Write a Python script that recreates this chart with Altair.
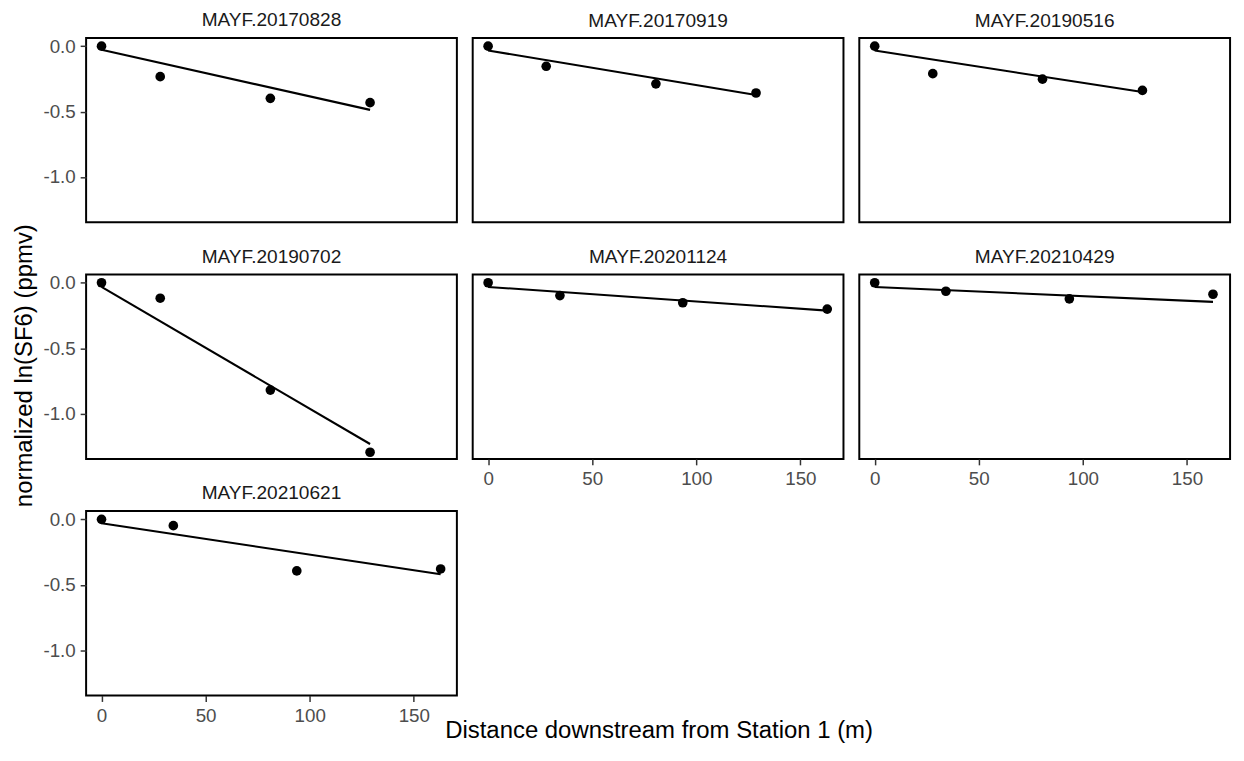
import altair as alt
import pandas as pd

sites = ["MAYF.20170828", "MAYF.20170919", "MAYF.20190516", "MAYF.20190702",
         "MAYF.20201124", "MAYF.20210429", "MAYF.20210621"]

dist = [
    [0, 28.2, 81.1, 129.0],
    [0, 27.9, 80.6, 128.7],
    [0, 27.9, 80.6, 128.6],
    [0, 28.2, 81.1, 129.0],
    [0, 34.5, 93.5, 162.9],
    [0, 34.2, 93.5, 162.5],
    [0, 34.5, 93.8, 162.9],
]
vals = [
    [0, -0.233, -0.399, -0.432],
    [0, -0.154, -0.288, -0.358],
    [0, -0.210, -0.252, -0.338],
    [0, -0.118, -0.820, -1.295],
    [0, -0.098, -0.153, -0.201],
    [0, -0.065, -0.123, -0.088],
    [0, -0.048, -0.394, -0.379],
]
fit_start = [-0.028, -0.033, -0.033, -0.032, -0.032, -0.032, -0.030]
fit_end = [-0.487, -0.374, -0.351, -1.232, -0.213, -0.146, -0.420]

x_ticks = [0, 50, 100, 150]
y_ticks = [0.0, -0.5, -1.0]

x_title = "Distance downstream from Station 1 (m)"
y_title = "normalized ln(SF6) (ppmv)"

pt_rows = []
for s, ds, vs in zip(sites, dist, vals):
    for d, v in zip(ds, vs):
        pt_rows.append({"site": s, "dist": d, "val": v})
pts_df = pd.DataFrame(pt_rows)

fit_rows = []
for s, ds, a, b in zip(sites, dist, fit_start, fit_end):
    fit_rows.append({"site": s, "dist": ds[0], "val": a})
    fit_rows.append({"site": s, "dist": ds[-1], "val": b})
fit_df = pd.DataFrame(fit_rows)

FONT = "Liberation Sans"
W, H = 375, 186.5
XDOM = [-7.4, 170.7]
YDOM = [-1.346, 0.063]
YLAB = "replace(format(datum.value, '.1f'), '\u2212', '-')"

def panel(i):
    s = sites[i]
    show_x = i in (4, 5, 6)
    show_y = i in (0, 3, 6)
    if show_x:
        if i == 6:
            xaxis = alt.Axis(values=x_ticks, title=x_title, titleX=579,
                             titleY=42, titleBaseline="alphabetic",
                             titleAlign="center")
        else:
            xaxis = alt.Axis(values=x_ticks, title=None)
    else:
        xaxis = None
    if show_y:
        if i == 0:
            yaxis = alt.Axis(values=y_ticks, title=y_title, labelExpr=YLAB,
                             titleX=-55, titleY=331, titleAngle=270,
                             titleBaseline="alphabetic", titleAlign="center")
        else:
            yaxis = alt.Axis(values=y_ticks, title=None, labelExpr=YLAB)
    else:
        yaxis = None
    X = alt.X("dist:Q", scale=alt.Scale(domain=XDOM, nice=False, zero=False), axis=xaxis)
    Y = alt.Y("val:Q", scale=alt.Scale(domain=YDOM, nice=False, zero=False), axis=yaxis)
    line = alt.Chart(fit_df).transform_filter(alt.datum.site == s).mark_line(
        color="black", strokeWidth=2.1).encode(x=X, y=Y)
    dots = alt.Chart(pts_df).transform_filter(alt.datum.site == s).mark_circle(
        size=95, color="black", opacity=1).encode(x=X, y=Y)
    return alt.layer(line, dots).properties(
        width=W, height=H,
        title=alt.TitleParams(s, frame="group", anchor="middle"),
    )

chart = alt.concat(
    *[panel(i) for i in range(7)],
    columns=3,
    spacing={"row": 52.3, "column": 16},
    bounds="flush",
).configure_view(
    stroke="black", strokeWidth=2
).configure_axis(
    labelFont=FONT, labelFontSize=19, labelColor="#4d4d4d",
    tickColor="#333333", tickSize=6, tickWidth=1.5,
    domain=False, grid=False, labelPadding=5,
    titleFont=FONT, titleFontSize=24.2, titleColor="black", titleFontWeight="normal",
).configure_title(
    font=FONT, fontSize=19.3, color="#1a1a1a", fontWeight="normal",
    offset=7, baseline="alphabetic",
).properties(
    padding={"left": 4, "top": -2, "right": 5, "bottom": 5},
    background="white",
)

chart.save("out.html", embed_options={"renderer": "svg", "actions": False})
